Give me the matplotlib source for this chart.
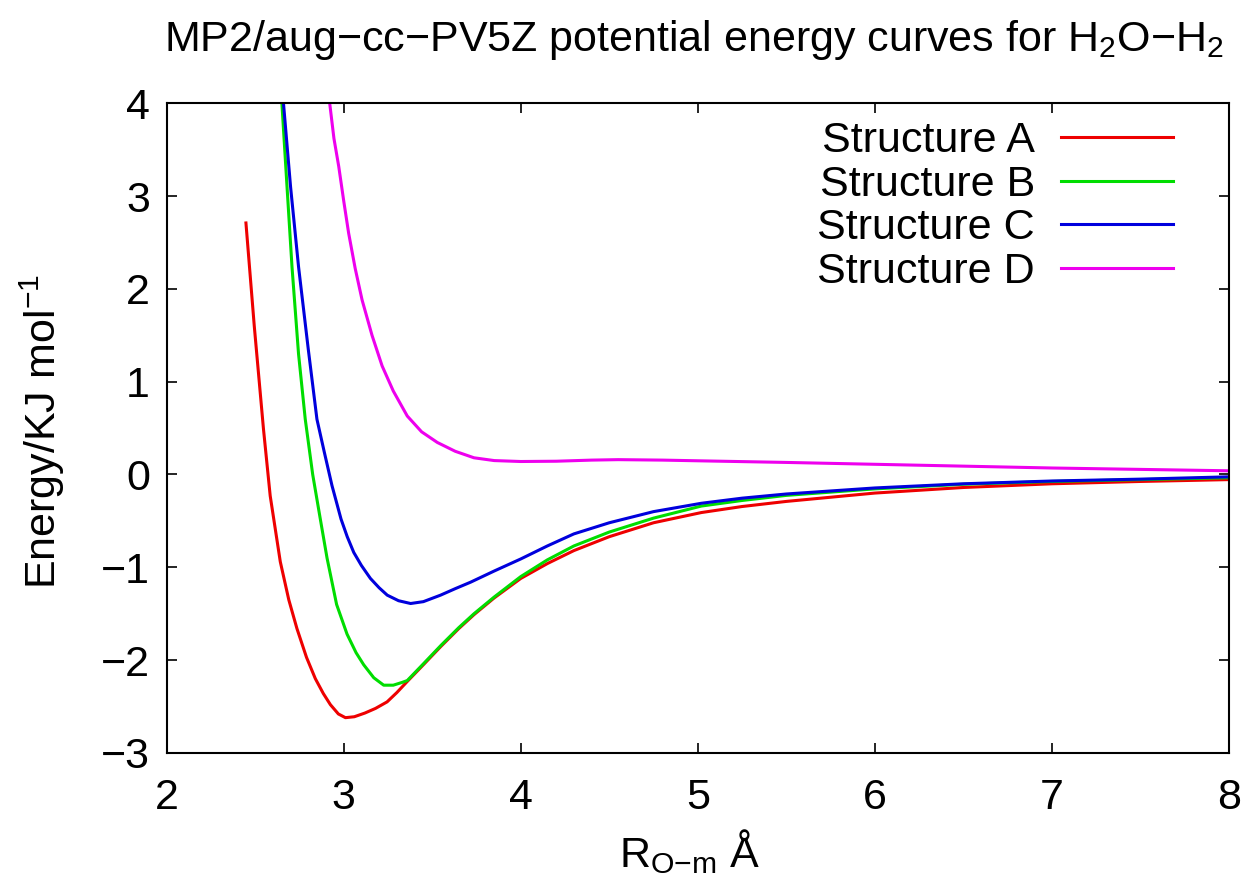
import matplotlib
matplotlib.use("Agg")
import matplotlib.pyplot as plt

plt.rcParams['font.family'] = ['Liberation Sans', 'DejaVu Sans']
plt.rcParams['mathtext.fontset'] = 'custom'
plt.rcParams['mathtext.rm'] = 'Liberation Sans'
plt.rcParams['mathtext.it'] = 'Liberation Sans'
plt.rcParams['mathtext.bf'] = 'Liberation Sans'

# values (R in Angstrom, energy in kJ/mol)
x_a = [2.448, 2.495, 2.547, 2.585, 2.642, 2.69, 2.736, 2.79, 2.84, 2.885, 2.925,
       2.97, 3.01, 3.06, 3.12, 3.18, 3.245, 3.30, 3.359, 3.45, 3.55, 3.65, 3.736,
       3.85, 4.0, 4.15, 4.30, 4.5, 4.75, 5.02, 5.25, 5.5, 6.0, 6.5, 7.0, 7.5, 8.0]
y_a = [2.71, 1.60, 0.49, -0.23, -0.94, -1.35, -1.66, -1.97, -2.20, -2.36, -2.48,
       -2.58, -2.62, -2.61, -2.57, -2.52, -2.45, -2.35, -2.23, -2.05, -1.85, -1.66, -1.51,
       -1.33, -1.12, -0.96, -0.82, -0.67, -0.52, -0.41, -0.345, -0.29, -0.20, -0.14, -0.10, -0.075, -0.055]

x_b = [2.651, 2.68, 2.708, 2.745, 2.783, 2.825, 2.868, 2.906, 2.96, 3.019, 3.07,
       3.113, 3.17, 3.226, 3.28, 3.33, 3.359, 3.45, 3.55, 3.65, 3.736, 3.85, 4.0,
       4.15, 4.30, 4.5, 4.75, 5.02, 5.25, 5.5, 6.0, 6.5, 7.0, 7.5, 8.0]
y_b = [4.0, 3.1, 2.24, 1.30, 0.595, 0.0, -0.48, -0.90, -1.40, -1.72, -1.92,
       -2.05, -2.19, -2.27, -2.27, -2.24, -2.22, -2.04, -1.84, -1.65, -1.50, -1.32, -1.10,
       -0.92, -0.77, -0.62, -0.47, -0.34, -0.28, -0.225, -0.155, -0.105, -0.075, -0.055, -0.035]

x_c = [2.66, 2.70, 2.745, 2.80, 2.849, 2.891, 2.934, 2.985, 3.02, 3.057, 3.10,
       3.151, 3.20, 3.246, 3.31, 3.378, 3.45, 3.547, 3.63, 3.717, 3.85, 4.0, 4.15,
       4.30, 4.5, 4.75, 5.02, 5.25, 5.5, 6.0, 6.5, 7.0, 7.5, 8.0]
y_c = [4.0, 3.1, 2.24, 1.35, 0.595, 0.237, -0.12, -0.48, -0.67, -0.84, -0.98,
       -1.12, -1.22, -1.30, -1.36, -1.39, -1.37, -1.30, -1.23, -1.16, -1.04, -0.91, -0.77,
       -0.64, -0.52, -0.40, -0.31, -0.255, -0.21, -0.145, -0.10, -0.07, -0.05, -0.025]

x_d = [2.921, 2.945, 2.972, 3.0, 3.028, 3.065, 3.104, 3.16, 3.217, 3.28, 3.359,
       3.44, 3.529, 3.63, 3.736, 3.85, 4.0, 4.2, 4.4, 4.55, 4.8, 5.02, 5.5, 6.0,
       6.5, 7.0, 7.5, 8.0]
y_d = [4.0, 3.62, 3.32, 2.95, 2.60, 2.22, 1.88, 1.50, 1.17, 0.90, 0.63,
       0.46, 0.345, 0.25, 0.18, 0.15, 0.14, 0.143, 0.155, 0.16, 0.155, 0.147, 0.13, 0.11,
       0.09, 0.07, 0.055, 0.04]

labels = ["Structure A", "Structure B", "Structure C", "Structure D"]
colors = ["#ee0000", "#00dd00", "#0000dd", "#ee00ee"]

fig = plt.figure(figsize=(12.49, 8.90), dpi=100)
ax = fig.add_axes([0.1334, 0.154, 0.8506, 0.730])

for xs, ys, lab, col in zip([x_a, x_b, x_c, x_d], [y_a, y_b, y_c, y_d], labels, colors):
    ax.plot(xs, ys, color=col, lw=2.2, label=lab)

ax.set_xlim(2, 8)
ax.set_ylim(-3, 4)
ax.set_xticks(range(2, 9))
ax.set_yticks(range(-3, 5))
ax.tick_params(direction='in', top=True, right=True, length=7, width=1.2,
               labelsize=31)
ax.tick_params(axis='x', pad=18)
ax.tick_params(axis='y', pad=12)
for sp in ax.spines.values():
    sp.set_linewidth(1.5)

leg = ax.legend(loc='upper right', bbox_to_anchor=(0.947, 0.972), frameon=False,
                fontsize=31, markerfirst=False, handlelength=2.6,
                handletextpad=0.6, labelspacing=0.08, borderpad=0,
                borderaxespad=0)

fig.text(0.556, 0.955, "MP2/aug\u2212cc\u2212PV5Z potential energy curves for H$_2$O\u2212H$_2$",
         ha='center', va='center', fontsize=31)
fig.text(0.552, 0.043, "R$_{\\text{O\u2212m}}$ \u00c5", ha='center', va='center', fontsize=31)
fig.text(0.034, 0.515, "Energy/KJ mol$^{-1}$", ha='center', va='center',
         rotation=90, fontsize=31)

fig.savefig("out.png", dpi=100)
